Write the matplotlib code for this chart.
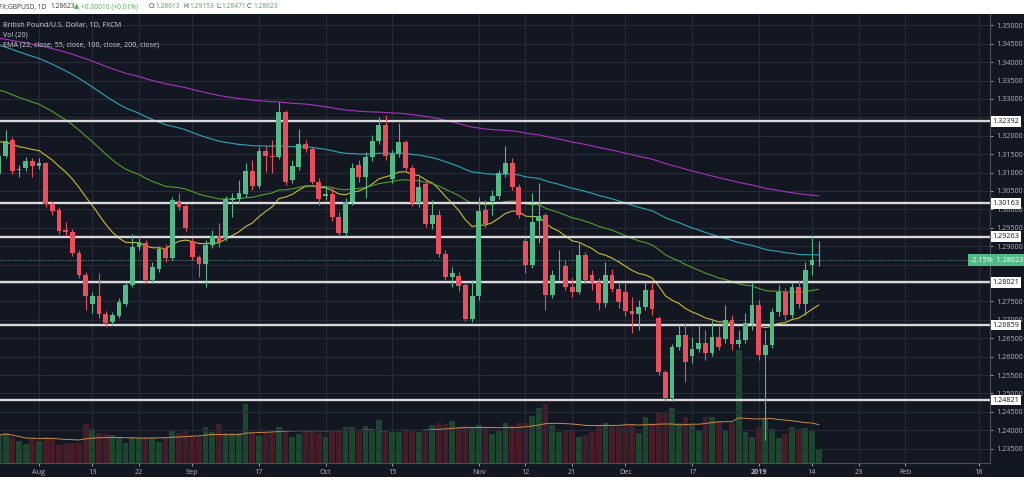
import numpy as np
import pandas as pd
import matplotlib
matplotlib.use("Agg")
import matplotlib.pyplot as plt
from matplotlib.patches import Rectangle
from matplotlib.transforms import blended_transform_factory

plt.rcParams['font.family'] = ['Open Sans', 'DejaVu Sans']

# ---------------- data (GBPUSD daily, FXCM) ----------------
start_date = "2018-07-24"
holidays = ["2018-12-25", "2019-01-01"]

opens = [1.3096, 1.3145, 1.3188, 1.3106, 1.3112, 1.3131,
         1.3118, 1.3126, 1.3015, 1.2998, 1.2944, 1.2939, 1.2881, 1.2822, 1.2743, 1.2765,
         1.2716, 1.2694, 1.2710, 1.2743, 1.2795, 1.2898, 1.2909, 1.2808, 1.2838, 1.2895,
         1.2868, 1.3023, 1.3009, 1.2911, 1.2871, 1.2852, 1.2903, 1.2928, 1.2922, 1.3025,
         1.3028, 1.3042, 1.3104, 1.3063, 1.3159, 1.3145, 1.3142, 1.3265, 1.3080, 1.3115,
         1.3178, 1.3164, 1.3074, 1.3036, 1.3042, 1.2979, 1.2936, 1.3020, 1.3121, 1.3088,
         1.3142, 1.3186, 1.3229, 1.3083, 1.3150, 1.3183, 1.3112, 1.3017, 1.3069, 1.2960,
         1.2985, 1.2879, 1.2816, 1.2819, 1.2795, 1.2702, 1.2765, 1.2998, 1.3023, 1.3036,
         1.3096, 1.3126, 1.3061, 1.2914, 1.2849, 1.2968, 1.2985, 1.2767, 1.2845, 1.2846,
         1.2789, 1.2776, 1.2876, 1.2822, 1.2803, 1.2746, 1.2822, 1.2784, 1.2776, 1.2724,
         1.2716, 1.2735, 1.2781, 1.2705, 1.2558, 1.2488, 1.2626, 1.2659, 1.2602, 1.2621,
         1.2637, 1.2610, 1.2653, 1.2648, 1.2700, 1.2634, 1.2645, 1.2692, 1.2741, 1.2605,
         1.2632, 1.2721, 1.2776, 1.2713, 1.2789, 1.2743, 1.2849, 1.28613]
highs = [1.3161, 1.3216, 1.3197, 1.3121, 1.3142, 1.3140,
         1.3140, 1.3129, 1.3023, 1.3006, 1.2966, 1.2947, 1.2890, 1.2830, 1.2776, 1.2827,
         1.2724, 1.2721, 1.2759, 1.2803, 1.2933, 1.2928, 1.2917, 1.2857, 1.2901, 1.2906,
         1.3034, 1.3044, 1.3015, 1.2922, 1.2876, 1.2917, 1.2944, 1.2963, 1.3036, 1.3044,
         1.3080, 1.3126, 1.3134, 1.3169, 1.3172, 1.3188, 1.3292, 1.3270, 1.3134, 1.3218,
         1.3188, 1.3169, 1.3085, 1.3063, 1.3061, 1.2993, 1.3031, 1.3126, 1.3134, 1.3156,
         1.3202, 1.3251, 1.3256, 1.3161, 1.3235, 1.3188, 1.3121, 1.3088, 1.3077, 1.3025,
         1.2998, 1.2890, 1.2843, 1.2830, 1.2800, 1.2808, 1.3034, 1.3025, 1.3053, 1.3107,
         1.3172, 1.3140, 1.3069, 1.2925, 1.3044, 1.3072, 1.2990, 1.2835, 1.2890, 1.2863,
         1.2814, 1.2909, 1.2884, 1.2835, 1.2814, 1.2857, 1.2838, 1.2803, 1.2800, 1.2762,
         1.2754, 1.2803, 1.2803, 1.2710, 1.2564, 1.2634, 1.2686, 1.2692, 1.2653, 1.2686,
         1.2672, 1.2700, 1.2686, 1.2741, 1.2713, 1.2672, 1.2719, 1.2803, 1.2754, 1.2672,
         1.2732, 1.2795, 1.2786, 1.2800, 1.2808, 1.2857, 1.2928, 1.29153]
lows = [1.3085, 1.3140, 1.3096, 1.3088, 1.3104, 1.3088,
        1.3110, 1.3006, 1.2985, 1.2933, 1.2928, 1.2873, 1.2814, 1.2727, 1.2719, 1.2705,
        1.2681, 1.2686, 1.2705, 1.2738, 1.2789, 1.2890, 1.2800, 1.2800, 1.2830, 1.2857,
        1.2863, 1.2998, 1.2941, 1.2863, 1.2816, 1.2789, 1.2895, 1.2898, 1.2914, 1.2979,
        1.3017, 1.3034, 1.3053, 1.3058, 1.3101, 1.3099, 1.3137, 1.3066, 1.3072, 1.3107,
        1.3156, 1.3069, 1.3012, 1.3025, 1.2968, 1.2928, 1.2928, 1.3012, 1.3074, 1.3031,
        1.3131, 1.3178, 1.3134, 1.3072, 1.3142, 1.3104, 1.3009, 1.3006, 1.2952, 1.2947,
        1.2871, 1.2808, 1.2789, 1.2778, 1.2697, 1.2694, 1.2754, 1.2952, 1.2985, 1.3028,
        1.3088, 1.3053, 1.2977, 1.2827, 1.2841, 1.2909, 1.2727, 1.2759, 1.2808, 1.2781,
        1.2762, 1.2770, 1.2800, 1.2781, 1.2727, 1.2735, 1.2776, 1.2732, 1.2710, 1.2664,
        1.2672, 1.2727, 1.2713, 1.2550, 1.2480, 1.2480, 1.2618, 1.2531, 1.2583, 1.2613,
        1.2591, 1.2602, 1.2618, 1.2637, 1.2618, 1.2623, 1.2637, 1.2672, 1.2591, 1.2374,
        1.2623, 1.2710, 1.2700, 1.2705, 1.2732, 1.2713, 1.2822, 1.28471]
closes = [1.3145, 1.3186, 1.3104, 1.3108, 1.3131, 1.3118,
          1.3126, 1.3015, 1.2996, 1.2941, 1.2939, 1.2881, 1.2822, 1.2765, 1.2765, 1.2716,
          1.2692, 1.2713, 1.2749, 1.2795, 1.2898, 1.2911, 1.2808, 1.2843, 1.2892, 1.2868,
          1.3025, 1.3006, 1.2950, 1.2871, 1.2852, 1.2903, 1.2928, 1.2911, 1.3028, 1.3031,
          1.3044, 1.3104, 1.3063, 1.3159, 1.3145, 1.3142, 1.3265, 1.3074, 1.3118, 1.3178,
          1.3164, 1.3074, 1.3028, 1.3042, 1.2979, 1.2936, 1.3020, 1.3112, 1.3088, 1.3142,
          1.3186, 1.3229, 1.3145, 1.3150, 1.3183, 1.3112, 1.3017, 1.3061, 1.2960, 1.2985,
          1.2879, 1.2816, 1.2827, 1.2792, 1.2702, 1.2765, 1.2996, 1.2960, 1.3036, 1.3099,
          1.3126, 1.3061, 1.2985, 1.2849, 1.2966, 1.2982, 1.2767, 1.2822, 1.2847, 1.2789,
          1.2776, 1.2876, 1.2808, 1.2803, 1.2746, 1.2822, 1.2784, 1.2749, 1.2724, 1.2716,
          1.2735, 1.2781, 1.2730, 1.2558, 1.2488, 1.2626, 1.2659, 1.2585, 1.2621, 1.2637,
          1.2610, 1.2653, 1.2626, 1.2700, 1.2634, 1.2645, 1.2692, 1.2741, 1.2605, 1.2632,
          1.2721, 1.2776, 1.2713, 1.2789, 1.2743, 1.2835, 1.2862, 1.28623]
volumes = [28, 30, 26, 22, 19, 24,
           22, 26, 25, 18, 20, 20, 20, 39, 34, 30,
           29, 28, 25, 20, 26, 25, 26, 25, 21, 26,
           33, 30, 32, 28, 26, 36, 31, 39, 30, 30,
           30, 59, 30, 27, 31, 30, 36, 32, 26, 29,
           32, 32, 30, 26, 33, 33, 36, 36, 33, 37,
           33, 43, 32, 31, 31, 33, 33, 31, 33, 38,
           40, 39, 42, 36, 37, 36, 38, 36, 29, 33,
           40, 38, 40, 40, 47, 55, 59, 38, 31, 33,
           33, 26, 28, 31, 38, 40, 37, 36, 40, 38,
           30, 46, 40, 51, 50, 55, 40, 46, 38, 33,
           46, 46, 42, 33, 40, 113, 31, 26, 36, 44,
           34, 25, 29, 36, 34, 35, 33, 13]

# EMA starting values at the left edge
ema_periods = [22, 55, 100, 200]
ema_seeds = [1.3183, 1.3324, 1.3446, 1.3465]
ema_colors = ['#c9bd2c', '#4e9f2c', '#2aa7b8', '#a634bb']

levels = [1.32392, 1.30163, 1.29263, 1.28021, 1.26859, 1.24821]
last_price = 1.28623
last_change = "-2.15%"
hidden_ticks = [1.325, 1.285, 1.280]   # covered by the price boxes

tick_labels = ["Aug", "13", "22", "Sep", "17", "Oct", "15", "Nov", "12", "21",
               "Dec", "17", "2019", "14", "23", "Feb", "18"]
tick_dates = ["2018-08-01", "2018-08-13", "2018-08-22", "2018-09-03", "2018-09-17",
              "2018-10-01", "2018-10-15", "2018-11-01", "2018-11-12", "2018-11-21",
              "2018-12-03", "2018-12-17", "2019-01-02", "2019-01-14", "2019-01-23",
              "2019-02-01", "2019-02-18"]

# ---------------- build ----------------
all_days = pd.bdate_range(start_date, "2019-03-01")
all_days = all_days[~all_days.isin(pd.to_datetime(holidays))]
n = len(closes)
x = np.arange(n)
o = np.array(opens); h = np.array(highs); l = np.array(lows); c = np.array(closes)
v = np.array(volumes, dtype=float)
up = c >= o

BG = '#131722'
GRID = '#272b36'
UP = '#53b987'
DN = '#eb4d5c'
TXT = '#b2b5be'

W, H = 1024, 480
fig = plt.figure(figsize=(W / 100, H / 100), dpi=100, facecolor='white')
fig.patches.append(Rectangle((0, 3 / H), 1, 463 / H, transform=fig.transFigure,
                             facecolor=BG, edgecolor='none', zorder=0))

rect = [0, 17 / H, 990 / W, 449 / H]
axv = fig.add_axes(rect, zorder=1)
ax = fig.add_axes(rect, zorder=2)
ax.patch.set_visible(False)
axv.set_facecolor(BG)

xlo, xhi = 0.148, 148.71
ax.set_xlim(xlo, xhi)
axv.set_xlim(xlo, xhi)
ax.set_ylim(1.23111, 1.35307)
axv.set_ylim(0, 449)

# volume
vcol = np.where(up, '#1c472e', '#471c27')
axv.bar(x, v, width=0.86, color=vcol, linewidth=0)
vma = pd.Series(v).rolling(20, min_periods=1).mean()
axv.plot(x, vma, color='#c98a4a', lw=0.7)
axv.set_xticks([]); axv.set_yticks([])
for s in axv.spines.values():
    s.set_visible(False)

# grid
tick_pos = [all_days.get_loc(pd.Timestamp(d)) for d in tick_dates]
yt = np.round(np.arange(1.235, 1.3501, 0.005), 3)
for tp in tick_pos:
    axv.axvline(tp, color=GRID, lw=0.8, zorder=0)
for yv in yt:
    ax.axhline(yv, color=GRID, lw=0.8, zorder=0)

# EMA lines
for per, seed, col in zip(ema_periods, ema_seeds, ema_colors):
    a = 2.0 / (per + 1)
    e = np.empty(n)
    e[0] = seed
    for k in range(1, n):
        e[k] = a * c[k] + (1 - a) * e[k - 1]
    ax.plot(x, e, color=col, lw=0.8, zorder=3)

# horizontal levels
for lv in levels:
    ax.axhline(lv, color='#d9d9d9', lw=1.7, zorder=4)
ax.axhline(last_price, color='#5f8f8f', lw=0.6, ls=(0, (1.5, 1.5)), zorder=4)

# candles
ccol = np.where(up, UP, DN)
ax.vlines(x, l, h, colors=ccol, lw=0.8, zorder=5)
body_lo = np.minimum(o, c)
body_h = np.maximum(np.abs(c - o), 0.00025)
ax.bar(x, body_h, bottom=body_lo, width=0.72, color=ccol, linewidth=0, zorder=6)

# axes styling
for s in ['top', 'left']:
    ax.spines[s].set_visible(False)
ax.spines['right'].set_color('#4a4e59')
ax.spines['bottom'].set_color('#4a4e59')
ax.spines['right'].set_linewidth(0.8)
ax.spines['bottom'].set_linewidth(0.8)
ax.yaxis.tick_right()
ax.set_yticks(yt)
ax.set_yticklabels(["" if any(abs(t - hv) < 1e-6 for hv in hidden_ticks) else f"{t:.5f}"
                    for t in yt])
ax.tick_params(axis='y', colors=TXT, labelsize=5.2, length=2.5, width=0.6, pad=2)
ax.set_xticks(tick_pos)
ax.set_xticklabels(tick_labels)
ax.tick_params(axis='x', colors=TXT, labelsize=5.2, length=2, width=0.6, pad=2.5)
for lab in ax.get_xticklabels():
    if lab.get_text() == "2019":
        lab.set_fontweight('bold')

# price boxes on the right axis
tr = blended_transform_factory(ax.transAxes, ax.transData)
for lv in levels:
    ax.text(1.0025, lv, f"{lv:.5f}", transform=tr, ha='left', va='center',
            fontsize=5.2, color='#131722', clip_on=False, zorder=10,
            bbox=dict(boxstyle='square,pad=0.25', fc='white', ec='none'))
ax.text(1.0335, last_price, f"{last_change}  {last_price:.5f}", transform=tr,
        ha='right', va='center', fontsize=5.2, color='white', clip_on=False, zorder=11,
        bbox=dict(boxstyle='square,pad=0.3', fc=UP, ec='none'))

# legend texts inside chart
def fx(px): return px / W
def fy(py): return 1 - py / H

LG = '#d1d4dc'
fig.text(fx(3), fy(25), "British Pound/U.S. Dollar, 1D, FXCM", fontsize=5.1,
         color=LG, va='center', ha='left')
fig.text(fx(3), fy(35), "Vol (20)", fontsize=5.1, color=LG, va='center', ha='left')
fig.text(fx(3), fy(44.5), "EMA (22, close, 55, close, 100, close, 200, close)", fontsize=5.1,
         color=LG, va='center', ha='left')

# header line
DK = '#3a3a3a'
GR = '#4caf50'
hdr = [(-1, "FX:GBPUSD, 1D", DK), (50, "1.28623", DK), (74, "\u25B2", GR),
       (81, "+0.00010 (+0.01%)", GR), (149, "O:", DK), (155.5, "1.28613", GR),
       (183, "H:", DK), (189, "1.29153", GR), (216, "L:", DK), (221, "1.28471", GR),
       (247, "C:", DK), (253.5, "1.28623", GR)]
for px, t, col in hdr:
    fig.text(fx(px), fy(7), t, fontsize=4.8, color=col, va='center', ha='left')

fig.savefig("out.png", dpi=100, facecolor='white')
